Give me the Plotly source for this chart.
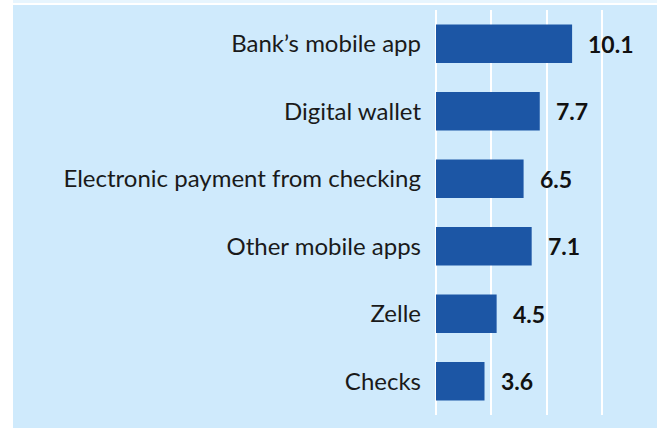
import plotly.graph_objects as go

categories = ["Bank\u2019s mobile app", "Digital wallet", "Electronic payment from checking",
              "Other mobile apps", "Zelle", "Checks"]
values = [10.1, 7.7, 6.5, 7.1, 4.5, 3.6]
value_labels = ["10.1", "7.7", "6.5", "7.1", "4.5", "3.6"]

W, H = 657, 428
ML, MR, MT, MB = 436, 0, 10, 13
BG = "#cfeafc"
BAR = "#1c56a5"

fig = go.Figure()
fig.add_trace(go.Bar(
    x=values, y=categories, orientation="h",
    marker=dict(color=BAR, line=dict(width=0)),
    hoverinfo="skip",
))

for v, lab, cat in zip(values, value_labels, categories):
    fig.add_annotation(x=v, y=cat, text="<b>%s</b>" % lab, showarrow=False,
                       xanchor="left", xshift=14,
                       font=dict(family="Lato", size=23, color="#111111"))

pw = W - ML - MR
ph = H - MT - MB
top = (ph + MT) / ph  # page top in paper coords
# white frame on the left and thin bands on top, outside the plotting area
fig.add_shape(type="rect", xref="paper", yref="paper", layer="below",
              x0=-ML / pw, x1=(13 - ML) / pw, y0=-MB / ph, y1=top,
              fillcolor="white", line=dict(width=0))
fig.add_shape(type="rect", xref="paper", yref="paper", layer="below",
              x0=(13 - ML) / pw, x1=1, y0=top - 5 / ph, y1=top - 3 / ph,
              fillcolor="white", line=dict(width=0))
fig.add_shape(type="rect", xref="paper", yref="paper", layer="below",
              x0=(13 - ML) / pw, x1=1, y0=top - 3 / ph, y1=top,
              fillcolor="#e7f5fe", line=dict(width=0))

fig.update_layout(
    width=W, height=H,
    margin=dict(l=ML, r=MR, t=MT, b=MB, pad=0),
    paper_bgcolor=BG, plot_bgcolor=BG,
    bargap=0.43, showlegend=False,
    font=dict(family="Lato", size=24, color="#1a1a1a"),
)
fig.update_xaxes(range=[0, 16.4], dtick=4.1, tick0=0, showgrid=True,
                 gridcolor="white", gridwidth=2, zeroline=True,
                 zerolinecolor="white", zerolinewidth=2,
                 showticklabels=False, ticks="", showline=False, fixedrange=True)
fig.update_yaxes(autorange="reversed", showgrid=False, ticks="", showline=False,
                 ticklabelstandoff=14, tickfont=dict(family="Lato", size=24, color="#1a1a1a"))

fig.write_html("out.html", config={"displayModeBar": False},
               post_script="document.body.style.margin='0';")
